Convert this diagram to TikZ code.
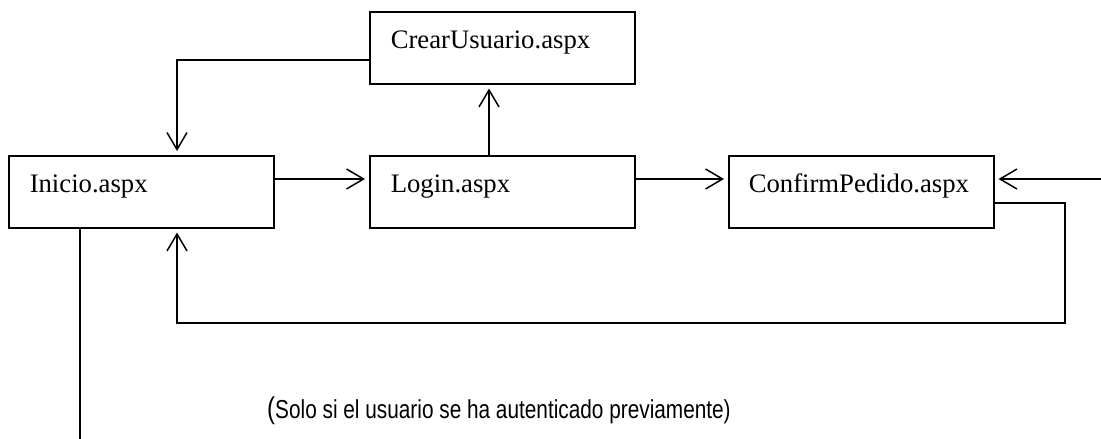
\documentclass[tikz,border=0pt]{standalone}
\usepackage{graphicx}
\usepackage{fontspec}
\setmainfont{Liberation Serif}
\newfontfamily\notefont{Liberation Sans}
\usetikzlibrary{arrows.meta}
\begin{document}
\begin{tikzpicture}[x=1pt,y=-1pt,
  page/.style={draw=black, line width=1.5pt, anchor=north west, inner xsep=21pt, inner ysep=0pt,
    text width=223pt, align=left, text height=37pt, text depth=35pt,
    font=\fontsize{26.7}{30}\selectfont},
  conn/.style={line width=1.5pt},
  arr/.style={conn, -{Straight Barb[length=17pt,width=20pt]}, shorten >=4pt},
  note/.style={inner sep=0pt, font=\notefont\fontsize{26}{30}\selectfont}]
\useasboundingbox (0,0) rectangle (1101,439);
\node[page] (cu) at (369,11) {CrearUsuario.aspx};
\node[page] (ini) at (8,155) {Inicio.aspx};
\node[page] (login) at (369,155) {Login.aspx};
\node[page, inner xsep=20pt, text width=225pt] (cp) at (728,155) {ConfirmPedido.aspx};
\coordinate (y60) at (0,60);
\coordinate (y179) at (0,179);
\coordinate (y203) at (0,203);
\coordinate (x177) at (177,0);
\coordinate (x489) at (489,0);
\coordinate (x80) at (80,0);
\coordinate (rin) at (1101,179);
\coordinate (rc) at (1065,323);
\coordinate (bot) at (80,439);
\draw[arr] (cu.west |- y60) -| (ini.north -| x177);
\draw[arr] (ini.east |- y179) -- (login.west |- y179);
\draw[arr] (login.north -| x489) -- (cu.south -| x489);
\draw[arr] (login.east |- y179) -- (cp.west |- y179);
\draw[arr] (rin) -- (cp.east |- y179);
\draw[arr] (cp.east |- y203) -| (rc) -| (ini.south -| x177);
\draw[conn] (ini.south -| x80) -- (bot);
\node[note] (txt) at (499,411) {\scalebox{0.8}[1]{{\fontsize{30}{30}\selectfont(}Solo si el usuario se ha autenticado previamente)}};
\end{tikzpicture}
\end{document}
